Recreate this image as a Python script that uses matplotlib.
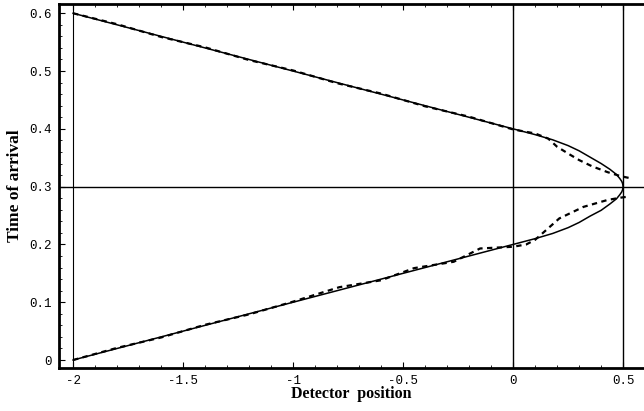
import matplotlib
matplotlib.use("Agg")
import matplotlib.pyplot as plt
from matplotlib.ticker import MultipleLocator, FuncFormatter

# solid curve (classical), upper branch then lower branch
solid_x = [-2.0, -1.5, -1.0, -0.5, 0.0, 0.1, 0.18, 0.25, 0.3, 0.35, 0.4, 0.44, 0.47, 0.485, 0.494, 0.498, 0.5,
           0.498, 0.494, 0.485, 0.47, 0.44, 0.4, 0.35, 0.3, 0.25, 0.18, 0.1, 0.0, -0.5, -1.0, -1.5, -2.0]
solid_t = [0.600, 0.550, 0.500, 0.450, 0.400, 0.390, 0.381, 0.371, 0.362, 0.351, 0.340, 0.330, 0.321, 0.314, 0.309, 0.305, 0.300,
           0.295, 0.291, 0.286, 0.279, 0.270, 0.259, 0.249, 0.238, 0.229, 0.219, 0.210, 0.200, 0.150, 0.100, 0.050, 0.000]

# dashed curve, upper branch
dash_up_x = [-2.0, -1.8, -1.6, -1.4, -1.2, -1.0, -0.8, -0.6, -0.4, -0.2, 0.0, 0.1, 0.16, 0.2, 0.26, 0.3, 0.36, 0.43, 0.49, 0.54]
dash_up_t = [0.600, 0.581, 0.559, 0.541, 0.519, 0.501, 0.479, 0.461, 0.439, 0.421, 0.399, 0.392, 0.383, 0.369, 0.355, 0.346, 0.335, 0.325, 0.318, 0.314]

# dashed curve, lower branch
dash_lo_x = [-2.0, -1.8, -1.6, -1.4, -1.2, -1.0, -0.79, -0.6, -0.45, -0.27, -0.15, 0.0, 0.06, 0.1, 0.13, 0.21, 0.32, 0.43, 0.49, 0.53]
dash_lo_t = [0.000, 0.021, 0.039, 0.061, 0.079, 0.101, 0.126, 0.138, 0.159, 0.170, 0.193, 0.196, 0.200, 0.208, 0.218, 0.245, 0.265, 0.277, 0.281, 0.283]

x_ticks = [-2, -1.5, -1, -0.5, 0, 0.5]
y_ticks = [0, 0.1, 0.2, 0.3, 0.4, 0.5, 0.6]


def fmt(v, pos):
    if abs(v) < 1e-9:
        return "0"
    s = ("%.1f" % v).rstrip("0").rstrip(".")
    return s


fig = plt.figure(figsize=(6.44, 4.11), dpi=100)
ax = fig.add_axes([59 / 644, 43 / 411, 1 - 59 / 644, 364 / 411])

ax.axvline(-2, color="black", lw=0.8)
ax.axvline(0, color="black", lw=1.0)
ax.axvline(0.5, color="black", lw=1.0)
ax.axhline(0.3, color="black", lw=1.0)

ax.plot(solid_x, solid_t, color="black", lw=1.1)
ax.plot(dash_up_x, dash_up_t, color="black", lw=1.6, dashes=(2.4, 2.0))
ax.plot(dash_lo_x, dash_lo_t, color="black", lw=1.6, dashes=(2.4, 2.0))

ax.set_xlim(-2.064, 0.595)
ax.set_ylim(-0.0138, 0.616)

ax.spines["right"].set_visible(False)
for s in ["left", "bottom", "top"]:
    ax.spines[s].set_linewidth(2.0)

ax.set_xticks(x_ticks)
ax.set_yticks(y_ticks)
ax.xaxis.set_minor_locator(MultipleLocator(0.1))
ax.yaxis.set_minor_locator(MultipleLocator(0.02))
ax.xaxis.set_major_formatter(FuncFormatter(fmt))
ax.yaxis.set_major_formatter(FuncFormatter(fmt))
ax.tick_params(axis="x", which="both", direction="in", top=True, bottom=True)
ax.tick_params(axis="y", which="both", direction="in", left=True, right=False)
ax.tick_params(which="major", length=4, width=0.8, pad=5)
ax.tick_params(which="minor", length=2.5, width=0.6)
for lab in ax.get_xticklabels() + ax.get_yticklabels():
    lab.set_fontfamily("Liberation Mono")
    lab.set_fontsize(9)

ax.set_xlabel("Detector  position", fontfamily="Liberation Serif", fontweight="bold", fontsize=11.5, labelpad=-1)
ax.set_ylabel("Time of arrival", fontfamily="Liberation Serif", fontweight="bold", fontsize=12.5, labelpad=5)

fig.savefig("out.png", dpi=100)
